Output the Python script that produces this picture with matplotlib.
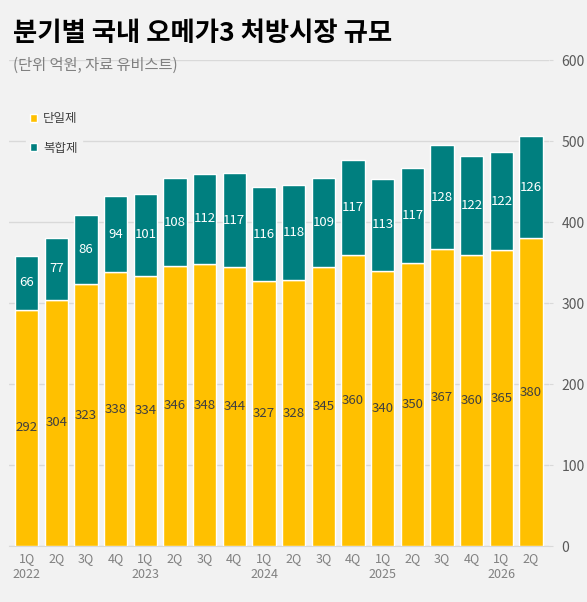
import matplotlib
matplotlib.use('Agg')
import matplotlib.pyplot as plt
import numpy as np

plt.rcParams['font.family'] = ['Noto Sans CJK KR', 'DejaVu Sans']

quarters = ['1Q', '2Q', '3Q', '4Q'] * 4 + ['1Q', '2Q']
years = ['2022', '2023', '2024', '2025', '2026']
single = [292, 304, 323, 338, 334, 346, 348, 344, 327, 328, 345, 360, 340, 350, 367, 360, 365, 380]
combo = [66, 77, 86, 94, 101, 108, 112, 117, 116, 118, 109, 117, 113, 117, 128, 122, 122, 126]

BG = '#F2F2F2'
YELLOW = '#FFC000'
TEAL = '#007F7F'

fig = plt.figure(figsize=(5.87, 6.02), dpi=100, facecolor=BG)
ax = fig.add_axes([0.015, 0.093, 0.92, 0.807], facecolor=BG)

x = np.arange(len(single))
ax.bar(x, single, width=0.78, color=YELLOW, edgecolor='white', linewidth=1, label='단일제', zorder=3)
ax.bar(x, combo, width=0.78, bottom=single, color=TEAL, edgecolor='white', linewidth=1, label='복합제', zorder=3)

for i in x:
    ax.text(i, single[i] / 2, str(single[i]), ha='center', va='center',
            fontsize=9.5, color='#404040', zorder=4)
    ax.text(i, single[i] + combo[i] / 2, str(combo[i]), ha='center', va='center',
            fontsize=9.5, color='white', zorder=4)

# x tick labels: quarter with the year under every 1Q
labels = []
yi = 0
for q in quarters:
    if q == '1Q':
        labels.append(q + '\n' + years[yi])
        yi += 1
    else:
        labels.append(q)
ax.set_xticks(x)
ax.set_xticklabels(labels, fontsize=9, color='#808080', linespacing=1.3)
ax.tick_params(axis='x', length=0, pad=4)

ax.set_xlim(-0.6, len(single) - 0.4)
ax.set_ylim(0, 600)
ax.yaxis.tick_right()
ax.set_yticks(range(0, 601, 100))
ax.tick_params(axis='y', length=3, color='#D9D9D9', labelsize=10, labelcolor='#595959', pad=6)
ax.grid(axis='y', color='#D9D9D9', linewidth=1, zorder=0)
for s in ['top', 'left', 'right']:
    ax.spines[s].set_visible(False)
ax.spines['bottom'].set_color('#D9D9D9')

leg = ax.legend(loc='upper left', bbox_to_anchor=(0.02, 0.913), frameon=True, fontsize=9,
                handlelength=0.6, handleheight=0.6, labelspacing=1.3, handletextpad=0.5,
                borderpad=0.3)
leg.get_frame().set_facecolor(BG)
leg.get_frame().set_edgecolor(BG)
leg.get_frame().set_alpha(1)
for t in leg.get_texts():
    t.set_color('#404040')
for h in leg.legend_handles:
    h.set_edgecolor('white')

fig.text(0.022, 0.945, '분기별 국내 오메가3 처방시장 규모', fontsize=19, fontweight='heavy',
         color='black', va='center')
fig.text(0.022, 0.892, '(단위 억원, 자료 유비스트)', fontsize=11, color='#808080', va='center')

fig.savefig('out.png', dpi=100, facecolor=BG)
